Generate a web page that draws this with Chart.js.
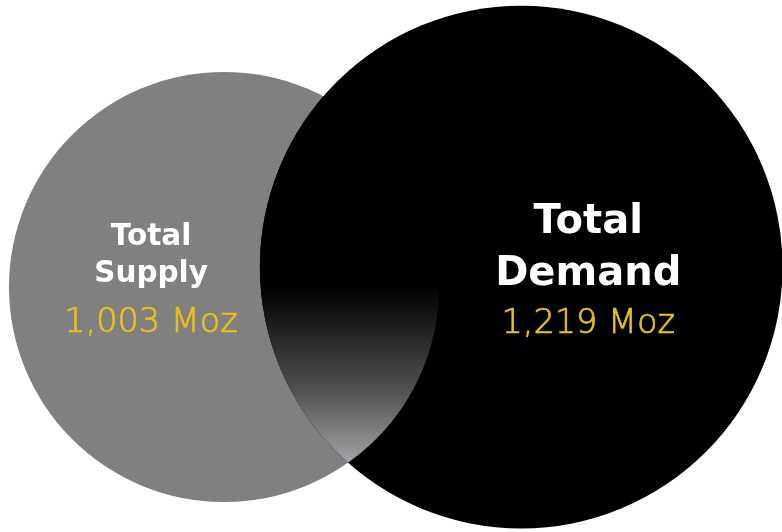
<!DOCTYPE html>
<html><head><meta charset="utf-8">
<script src="https://cdn.jsdelivr.net/npm/chart.js@4.4.1/dist/chart.umd.min.js"></script>
<style>html,body{margin:0;padding:0;background:#fff;overflow:hidden}canvas{display:block}</style>
</head><body>
<canvas id="c" width="782" height="532"></canvas>
<script>
// ---- data ----
const categories = ['Total Supply', 'Total Demand'];
const titleLines = [['Total', 'Supply'], ['Total', 'Demand']];
const valuesMoz = [1003, 1219];
const valueLabels = ['1,003 Moz', '1,219 Moz'];

// ---- layout / style ----
const centerX = [0.2865, 0.6665];   // fraction of width
const centerY = [0.5395, 0.5020];   // fraction of height (from top)
const PX_PER_MOZ = 0.2144;          // bubble radius per Moz
const fillColors = ['#808080', '#000000'];
const titleSizes = [29.5, 40];
const valueSize = 33.5;
const labelDX = [-73, 67];
const titleBaselines = [[245, 281.5], [233, 285]];
const valueBaselines = [331.5, 333];
const FONT = '"DejaVu Sans", sans-serif';
const VALUE_COLOR = '#E8C11A';

const points = valuesMoz.map((v, i) => ({ x: centerX[i], y: centerY[i], v: v }));

const lensPlugin = {
  id: 'lens',
  afterDatasetsDraw(chart) {
    const meta = chart.getDatasetMeta(0);
    const a = meta.data[0], b = meta.data[1];
    const ra = a.options.radius, rb = b.options.radius;
    const dx = b.x - a.x, dy = b.y - a.y, d = Math.hypot(dx, dy);
    const l = (ra * ra - rb * rb + d * d) / (2 * d);
    const h = Math.sqrt(Math.max(ra * ra - l * l, 0));
    const mx = a.x + l * dx / d, my = a.y + l * dy / d;
    const y1 = my - h * dx / d, y2 = my + h * dx / d;
    const top = Math.min(y1, y2), bot = Math.max(y1, y2);
    const ctx = chart.ctx;
    ctx.save();
    ctx.beginPath(); ctx.arc(a.x, a.y, ra, 0, Math.PI * 2); ctx.clip();
    ctx.beginPath(); ctx.arc(b.x, b.y, rb, 0, Math.PI * 2);
    const g = ctx.createLinearGradient(0, top, 0, bot);
    g.addColorStop(0, '#000000');
    g.addColorStop(0.52, '#000000');
    g.addColorStop(0.62, '#1c1c1c');
    g.addColorStop(0.8, '#4f5050');
    g.addColorStop(1, '#a2a4a7');
    ctx.fillStyle = g;
    ctx.fill();
    ctx.restore();
  },
  afterDraw(chart) {
    const meta = chart.getDatasetMeta(0);
    const ctx = chart.ctx;
    ctx.save();
    ctx.textAlign = 'center';
    ctx.textBaseline = 'alphabetic';
    meta.data.forEach((el, i) => {
      const cx = el.x + labelDX[i];
      ctx.fillStyle = '#ffffff';
      ctx.font = '700 ' + titleSizes[i] + 'px ' + FONT;
      titleLines[i].forEach((t, j) => ctx.fillText(t, cx, titleBaselines[i][j]));
      ctx.fillStyle = VALUE_COLOR;
      ctx.strokeStyle = VALUE_COLOR;
      ctx.lineWidth = 0.7;
      ctx.font = '300 ' + valueSize + 'px ' + FONT;
      ctx.fillText(valueLabels[i], cx, valueBaselines[i]);
      ctx.strokeText(valueLabels[i], cx, valueBaselines[i]);
    });
    ctx.restore();
  }
};

new Chart(document.getElementById('c'), {
  type: 'bubble',
  data: {
    labels: categories,
    datasets: [{
      label: 'Gold',
      data: points,
      backgroundColor: fillColors,
      borderWidth: 0,
      clip: false,
      radius: (ctx) => ctx.raw ? ctx.raw.v * PX_PER_MOZ : 0,
      hoverRadius: 0,
      hoverBorderWidth: 0
    }]
  },
  options: {
    responsive: false,
    animation: false,
    events: [],
    layout: { padding: 0, autoPadding: false },
    scales: {
      x: { type: 'linear', min: 0, max: 1, display: false },
      y: { type: 'linear', min: 0, max: 1, reverse: true, display: false }
    },
    plugins: { legend: { display: false }, tooltip: { enabled: false } }
  },
  plugins: [lensPlugin]
});
</script>
</body></html>
